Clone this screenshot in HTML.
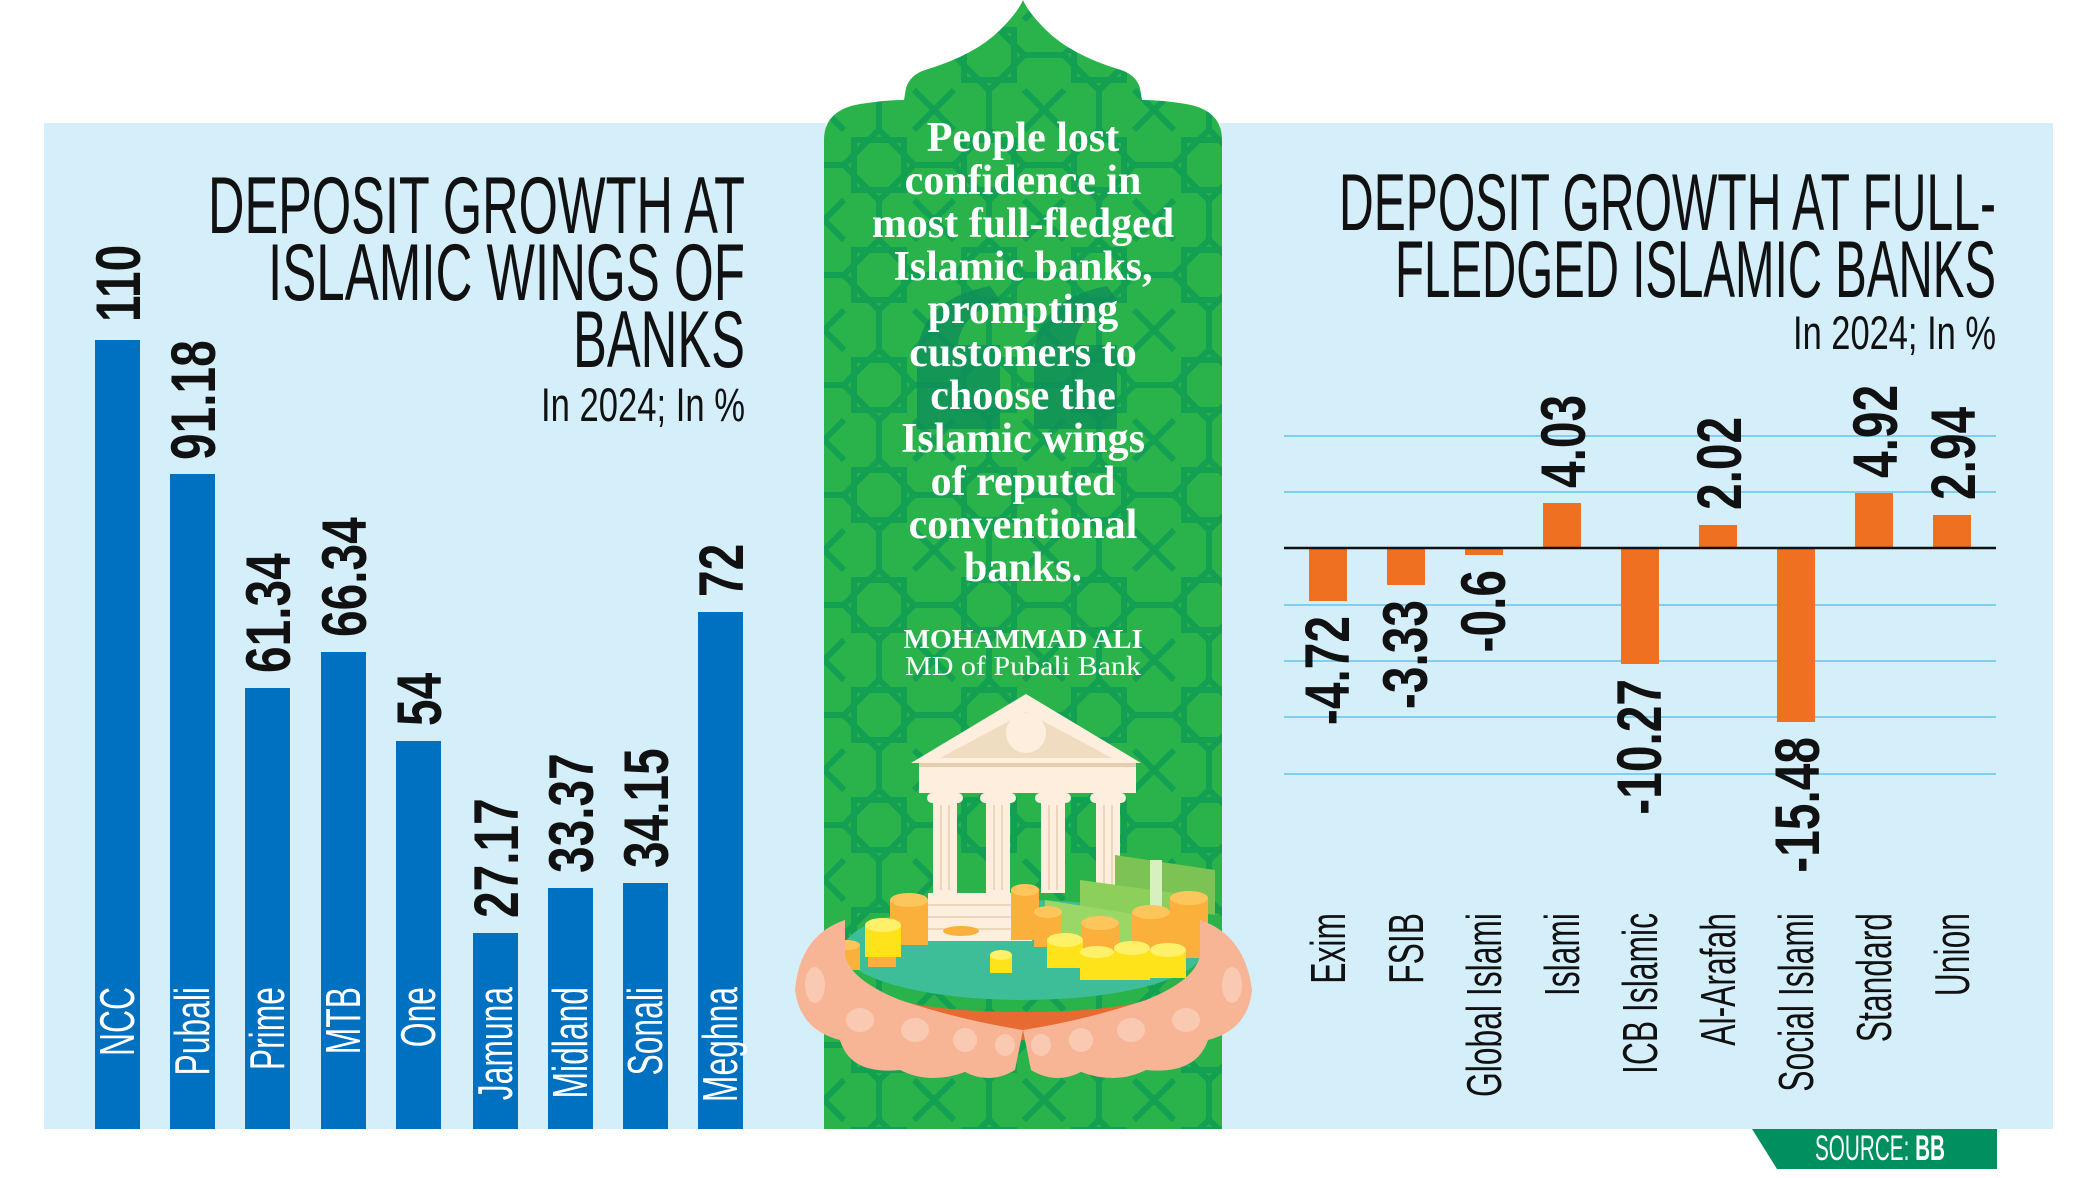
<!DOCTYPE html>
<html><head><meta charset="utf-8"><style>
html,body{margin:0;padding:0;background:#fff;width:2100px;height:1178px;overflow:hidden}
svg{display:block}
.t{font-family:"Liberation Sans",sans-serif}
.q{font-family:"Liberation Serif",serif}
</style></head><body>
<svg width="2100" height="1178" viewBox="0 0 2100 1178" xmlns="http://www.w3.org/2000/svg">
<defs>
<pattern id="pt" width="110" height="110" patternUnits="userSpaceOnUse" x="824" y="0">
<rect width="110" height="110" fill="#2ab34b"/>
<g fill="none" stroke="#13a052" stroke-width="6">
<rect x="30" y="30" width="50" height="50"/>
<rect x="30" y="30" width="50" height="50" transform="rotate(45 55 55)"/>
<line x1="0" y1="0" x2="20" y2="20"/><line x1="110" y1="0" x2="90" y2="20"/>
<line x1="0" y1="110" x2="20" y2="90"/><line x1="110" y1="110" x2="90" y2="90"/>
<line x1="55" y1="0" x2="55" y2="20"/><line x1="55" y1="110" x2="55" y2="90"/>
<line x1="0" y1="55" x2="20" y2="55"/><line x1="110" y1="55" x2="90" y2="55"/>
</g>
</pattern>
</defs>

<rect x="44" y="123" width="782" height="1006" fill="#d4eefa"/>
<rect x="1220" y="123" width="833" height="1006" fill="#d4eefa"/>

<path d="M824,1129 L824,140 Q824,110 860,104 Q885,100 904,100 L906,88 Q910,75 925,70 Q975,55 1000,30 Q1018,12 1023,0 Q1028,12 1046,30 Q1071,55 1121,70 Q1136,75 1140,88 L1142,100 Q1161,100 1186,104 Q1222,110 1222,140 L1222,1129 Z" fill="url(#pt)"/>
<g fill="#0f8f5a" opacity="0.8">
<path d="M917,429 L917,360 Q917,300 990,286 L1000,300 Q960,315 958,345 L1000,345 L1000,429 Z"/>
<path d="M1034,429 L1034,360 Q1034,300 1107,286 L1117,300 Q1077,315 1075,345 L1117,345 L1117,429 Z"/>
</g>

<g class="q" fill="#fff" font-weight="bold" font-size="42" text-anchor="middle">
<text x="1023" y="151">People lost</text>
<text x="1023" y="194">confidence in</text>
<text x="1023" y="237">most full-fledged</text>
<text x="1023" y="280">Islamic banks,</text>
<text x="1023" y="323">prompting</text>
<text x="1023" y="366">customers to</text>
<text x="1023" y="409">choose the</text>
<text x="1023" y="452">Islamic wings</text>
<text x="1023" y="495">of reputed</text>
<text x="1023" y="538">conventional</text>
<text x="1023" y="581">banks.</text>
<text x="1023" y="648" font-size="27" textLength="239" lengthAdjust="spacingAndGlyphs">MOHAMMAD ALI</text>
<text x="1023" y="675" font-size="27" font-weight="normal" textLength="236" lengthAdjust="spacingAndGlyphs">MD of Pubali Bank</text>
</g>

<g>
<polygon points="1026,694 911,763 1141,763" fill="#fdeedd"/>
<polygon points="1026,712 940,758 1112,758" fill="#f0dcc0"/>
<circle cx="1026" cy="733" r="20" fill="#fdeedd"/>
<rect x="919" y="763" width="217" height="30" fill="#fdeedd"/>
<rect x="919" y="763" width="217" height="4" fill="#e5cdb0"/>
<g fill="#fdeedd">
<rect x="933" y="793" width="24" height="100"/><rect x="986" y="793" width="24" height="100"/>
<rect x="1041" y="793" width="24" height="100"/><rect x="1096" y="793" width="24" height="100"/>
<rect x="927" y="793" width="36" height="10" rx="5"/><rect x="980" y="793" width="36" height="10" rx="5"/>
<rect x="1035" y="793" width="36" height="10" rx="5"/><rect x="1090" y="793" width="36" height="10" rx="5"/>
</g>
<g stroke="#ecd6bb" stroke-width="2">
<line x1="941" y1="805" x2="941" y2="890"/><line x1="949" y1="805" x2="949" y2="890"/>
<line x1="994" y1="805" x2="994" y2="890"/><line x1="1002" y1="805" x2="1002" y2="890"/>
<line x1="1049" y1="805" x2="1049" y2="890"/><line x1="1057" y1="805" x2="1057" y2="890"/>
<line x1="1104" y1="805" x2="1104" y2="890"/><line x1="1112" y1="805" x2="1112" y2="890"/>
</g>
<path d="M845,955 Q845,1012 1023,1012 Q1200,1012 1200,955 L1200,990 Q1180,1040 1023,1040 Q860,1040 845,990 Z" fill="#e66a32"/>
<ellipse cx="1023" cy="950" rx="180" ry="50" fill="#3dbd98"/>
<rect x="928" y="893" width="104" height="48" fill="#fdeedd"/>
<g stroke="#ecd6bb" stroke-width="2"><line x1="928" y1="905" x2="1032" y2="905"/><line x1="928" y1="917" x2="1032" y2="917"/><line x1="928" y1="929" x2="1032" y2="929"/></g>
<g>
<polygon points="1115,855 1215,870 1215,915 1115,900" fill="#7cc254"/>
<polygon points="1080,880 1190,895 1190,940 1080,925" fill="#8ccf5a"/>
<polygon points="1045,900 1140,915 1140,950 1045,935" fill="#9bd766"/>
<rect x="1150" y="860" width="12" height="50" fill="#d8f0c0"/>
</g>
<g>
<rect x="890" y="900" width="38" height="45" fill="#fbb03b"/><ellipse cx="909" cy="900" rx="19" ry="7" fill="#fdc65c"/>
<rect x="868" y="945" width="28" height="22" fill="#fbb03b"/><ellipse cx="882" cy="945" rx="14" ry="6" fill="#fdc65c"/>
<rect x="835" y="945" width="25" height="25" fill="#fbb03b"/><ellipse cx="847" cy="945" rx="13" ry="5" fill="#fdc65c"/>
<rect x="865" y="925" width="36" height="32" fill="#ffe31a"/><ellipse cx="883" cy="925" rx="18" ry="7" fill="#fff06a"/>
<rect x="1011" y="890" width="28" height="50" fill="#fbb03b"/><ellipse cx="1025" cy="890" rx="14" ry="6" fill="#fdc65c"/>
<rect x="1034" y="912" width="28" height="35" fill="#fbb03b"/><ellipse cx="1048" cy="912" rx="14" ry="6" fill="#fdc65c"/>
<rect x="1081" y="923" width="38" height="35" fill="#fbb03b"/><ellipse cx="1100" cy="923" rx="19" ry="7" fill="#fdc65c"/>
<rect x="1132" y="912" width="38" height="40" fill="#fbb03b"/><ellipse cx="1151" cy="912" rx="19" ry="7" fill="#fdc65c"/>
<rect x="1170" y="898" width="38" height="60" fill="#fbb03b"/><ellipse cx="1189" cy="898" rx="19" ry="7" fill="#fdc65c"/>
<rect x="1047" y="940" width="36" height="28" fill="#ffe31a"/><ellipse cx="1065" cy="940" rx="18" ry="7" fill="#fff06a"/>
<rect x="1080" y="952" width="34" height="28" fill="#ffe31a"/><ellipse cx="1097" cy="952" rx="17" ry="6" fill="#fff06a"/>
<rect x="1114" y="948" width="36" height="32" fill="#ffe31a"/><ellipse cx="1132" cy="948" rx="18" ry="7" fill="#fff06a"/>
<rect x="1150" y="950" width="36" height="28" fill="#ffe31a"/><ellipse cx="1168" cy="950" rx="18" ry="7" fill="#fff06a"/>
<rect x="990" y="955" width="22" height="18" fill="#ffe31a"/><ellipse cx="1001" cy="955" rx="11" ry="5" fill="#fff06a"/>
<rect x="1208" y="950" width="22" height="18" fill="#ffe31a"/><ellipse cx="1219" cy="950" rx="11" ry="5" fill="#fff06a"/>
<ellipse cx="961" cy="931" rx="18" ry="5" fill="#fbb03b"/>
</g>
<path d="M845,920 Q800,935 795,990 Q800,1030 840,1040 Q850,1075 900,1070 Q930,1085 965,1072 Q990,1085 1015,1070 L1023,1030 Q960,1020 900,1000 Q850,980 845,955 Z" fill="#f7b595"/>
<path d="M1200,920 Q1245,935 1252,990 Q1248,1030 1208,1040 Q1196,1075 1146,1070 Q1116,1085 1081,1072 Q1056,1085 1031,1070 L1023,1030 Q1086,1020 1146,1000 Q1196,980 1200,955 Z" fill="#f7b595"/>
<g fill="#fac9b2">
<ellipse cx="815" cy="985" rx="10" ry="18"/><ellipse cx="860" cy="1020" rx="14" ry="12"/><ellipse cx="915" cy="1030" rx="14" ry="12"/><ellipse cx="965" cy="1040" rx="12" ry="12"/><ellipse cx="1005" cy="1045" rx="10" ry="11"/>
<ellipse cx="1232" cy="985" rx="10" ry="18"/><ellipse cx="1186" cy="1020" rx="14" ry="12"/><ellipse cx="1131" cy="1030" rx="14" ry="12"/><ellipse cx="1081" cy="1040" rx="12" ry="12"/><ellipse cx="1041" cy="1045" rx="10" ry="11"/>
</g>
</g>
<rect x="780" y="1129" width="500" height="49" fill="#fff"/>

<g class="t" fill="#111" font-size="81">
<text x="208" y="233" textLength="537" lengthAdjust="spacingAndGlyphs">DEPOSIT GROWTH AT</text>
<text x="268" y="300" textLength="477" lengthAdjust="spacingAndGlyphs">ISLAMIC WINGS OF</text>
<text x="573" y="367" textLength="172" lengthAdjust="spacingAndGlyphs">BANKS</text>
<text x="541" y="421" font-size="47" textLength="204" lengthAdjust="spacingAndGlyphs">In 2024; In %</text>
</g>

<g fill="#0070c0">
<rect x="95" y="340" width="45" height="789"/>
<rect x="170" y="474" width="45" height="655"/>
<rect x="245" y="688" width="45" height="441"/>
<rect x="321" y="652" width="45" height="477"/>
<rect x="396" y="741" width="45" height="388"/>
<rect x="473" y="933" width="45" height="196"/>
<rect x="548" y="888" width="45" height="241"/>
<rect x="623" y="883" width="45" height="246"/>
<rect x="698" y="612" width="45" height="517"/>
</g>
<g class="t" font-weight="bold" font-size="63" fill="#111">
<text transform="translate(140,322) rotate(-90) scale(0.76,1)">110</text>
<text transform="translate(215,460) rotate(-90) scale(0.76,1)">91.18</text>
<text transform="translate(290,673) rotate(-90) scale(0.76,1)">61.34</text>
<text transform="translate(366,637) rotate(-90) scale(0.76,1)">66.34</text>
<text transform="translate(441,726) rotate(-90) scale(0.76,1)">54</text>
<text transform="translate(518,918) rotate(-90) scale(0.76,1)">27.17</text>
<text transform="translate(593,873) rotate(-90) scale(0.76,1)">33.37</text>
<text transform="translate(668,868) rotate(-90) scale(0.76,1)">34.15</text>
<text transform="translate(743,597) rotate(-90) scale(0.76,1)">72</text>
</g>
<g class="t" font-size="49" fill="#fff" text-anchor="end">
<text transform="translate(134,987) rotate(-90) scale(0.65,1)">NCC</text>
<text transform="translate(209,987) rotate(-90) scale(0.65,1)">Pubali</text>
<text transform="translate(284,987) rotate(-90) scale(0.65,1)">Prime</text>
<text transform="translate(360,987) rotate(-90) scale(0.65,1)">MTB</text>
<text transform="translate(435,987) rotate(-90) scale(0.65,1)">One</text>
<text transform="translate(512,987) rotate(-90) scale(0.65,1)">Jamuna</text>
<text transform="translate(587,987) rotate(-90) scale(0.65,1)">Midland</text>
<text transform="translate(662,987) rotate(-90) scale(0.65,1)">Sonali</text>
<text transform="translate(737,987) rotate(-90) scale(0.65,1)">Meghna</text>
</g>

<g class="t" fill="#111" font-size="81">
<text x="1339" y="230" textLength="657" lengthAdjust="spacingAndGlyphs">DEPOSIT GROWTH AT FULL-</text>
<text x="1395" y="297" textLength="601" lengthAdjust="spacingAndGlyphs">FLEDGED ISLAMIC BANKS</text>
<text x="1793" y="349" font-size="47" textLength="203" lengthAdjust="spacingAndGlyphs">In 2024; In %</text>
</g>

<g stroke="#7fd0f0" stroke-width="2">
<line x1="1284" y1="436" x2="1996" y2="436"/>
<line x1="1284" y1="492" x2="1996" y2="492"/>
<line x1="1284" y1="605" x2="1996" y2="605"/>
<line x1="1284" y1="661" x2="1996" y2="661"/>
<line x1="1284" y1="717" x2="1996" y2="717"/>
<line x1="1284" y1="774" x2="1996" y2="774"/>
</g>
<g fill="#f07021">
<rect x="1309" y="548" width="38" height="53"/>
<rect x="1387" y="548" width="38" height="37"/>
<rect x="1465" y="548" width="38" height="7"/>
<rect x="1543" y="503" width="38" height="45"/>
<rect x="1621" y="548" width="38" height="116"/>
<rect x="1699" y="525" width="38" height="23"/>
<rect x="1777" y="548" width="38" height="174"/>
<rect x="1855" y="493" width="38" height="55"/>
<rect x="1933" y="515" width="38" height="33"/>
</g>
<line x1="1284" y1="548" x2="1996" y2="548" stroke="#111" stroke-width="2.5"/>
<g class="t" font-weight="bold" font-size="63" fill="#111">
<text text-anchor="end" transform="translate(1349,616) rotate(-90) scale(0.76,1)">-4.72</text>
<text text-anchor="end" transform="translate(1427,600) rotate(-90) scale(0.76,1)">-3.33</text>
<text text-anchor="end" transform="translate(1505,570) rotate(-90) scale(0.76,1)">-0.6</text>
<text transform="translate(1585,488) rotate(-90) scale(0.76,1)">4.03</text>
<text text-anchor="end" transform="translate(1661,679) rotate(-90) scale(0.76,1)">-10.27</text>
<text transform="translate(1741,510) rotate(-90) scale(0.76,1)">2.02</text>
<text text-anchor="end" transform="translate(1819,737) rotate(-90) scale(0.76,1)">-15.48</text>
<text transform="translate(1897,478) rotate(-90) scale(0.76,1)">4.92</text>
<text transform="translate(1975,500) rotate(-90) scale(0.76,1)">2.94</text>
</g>
<g class="t" font-size="49" fill="#111" text-anchor="end">
<text transform="translate(1345,913) rotate(-90) scale(0.65,1)">Exim</text>
<text transform="translate(1423,913) rotate(-90) scale(0.65,1)">FSIB</text>
<text transform="translate(1501,913) rotate(-90) scale(0.65,1)">Global Islami</text>
<text transform="translate(1579,913) rotate(-90) scale(0.65,1)">Islami</text>
<text transform="translate(1657,913) rotate(-90) scale(0.65,1)">ICB Islamic</text>
<text transform="translate(1735,913) rotate(-90) scale(0.65,1)">Al-Arafah</text>
<text transform="translate(1813,913) rotate(-90) scale(0.65,1)">Social Islami</text>
<text transform="translate(1891,913) rotate(-90) scale(0.65,1)">Standard</text>
<text transform="translate(1969,913) rotate(-90) scale(0.65,1)">Union</text>
</g>

<polygon points="1752,1129 1997,1129 1997,1169 1777,1169" fill="#008f5f"/>
<text class="t" x="1815" y="1160" font-size="35" fill="#fff" textLength="130" lengthAdjust="spacingAndGlyphs">SOURCE: <tspan font-weight="bold">BB</tspan></text>
</svg>
</body></html>
